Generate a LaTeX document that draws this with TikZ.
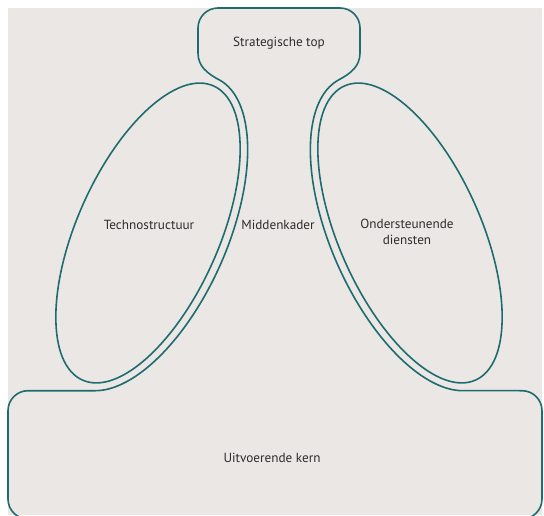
\documentclass[tikz,border=0pt]{standalone}
\usepackage{fontspec}
\setmainfont{PT Sans}
\usepackage{xcolor}
\definecolor{paneltint}{RGB}{234,231,228}
\definecolor{tealline}{RGB}{31,108,112}
\definecolor{labelgray}{RGB}{45,45,45}

\begin{document}
\begin{tikzpicture}[x=1pt,y=1pt,
	declare function={exL(\t)=148+79*cos(\t)*0.9135+169*sin(\t)*0.4067;
		eyL(\t)=282-79*cos(\t)*0.4067+169*sin(\t)*0.9135;}]
					\tikzstyle{contour} = [draw=tealline,line width=1.6pt,line join=round]
					\tikzstyle{part} = [text=labelgray,font=\fontsize{13.2}{15.5}\selectfont,align=center]
					\useasboundingbox (0,0) rectangle (544,515);
					\fill[paneltint] (8,0) rectangle (542,507);
					\draw[contour] (218,507) -- (340,507) arc[start angle=90,end angle=0,radius=20]
						-- (360,462) to[out=-90,in=28] (338.8,435.2)
						-- plot[domain=88:-78.2,samples=80,smooth] ({558-exL(\x)},{eyL(\x)})
						-- (522,124.3) arc[start angle=90,end angle=0,radius=20]
						-- (542,16) arc[start angle=0,end angle=-90,radius=20]
						-- (28,-4) arc[start angle=270,end angle=180,radius=20]
						-- (8,104.3) arc[start angle=180,end angle=90,radius=20]
						-- (95.5,124.3)
						-- plot[domain=-78.2:88,samples=80,smooth] ({exL(\x)},{eyL(\x)})
						to[out=152,in=-90] (198,462)
						-- (198,487) arc[start angle=180,end angle=90,radius=20] -- cycle;
					\draw[contour,rotate around={-24:(148,282)}] (148,282) ellipse (71 and 161);
					\draw[contour,rotate around={24:(410,282)}] (410,282) ellipse (71 and 161);
					\node[part] (top) at (279,472) {Strategische top};
					\node[part] (techno) at (149,290) {Technostructuur};
					\node[part] (midden) at (278,290) {Middenkader};
					\node[part] (steun) at (407,283) {Ondersteunende\\diensten};
					\node[part] (kern) at (272,57) {Uitvoerende kern};
					\end{tikzpicture}
\end{document}
